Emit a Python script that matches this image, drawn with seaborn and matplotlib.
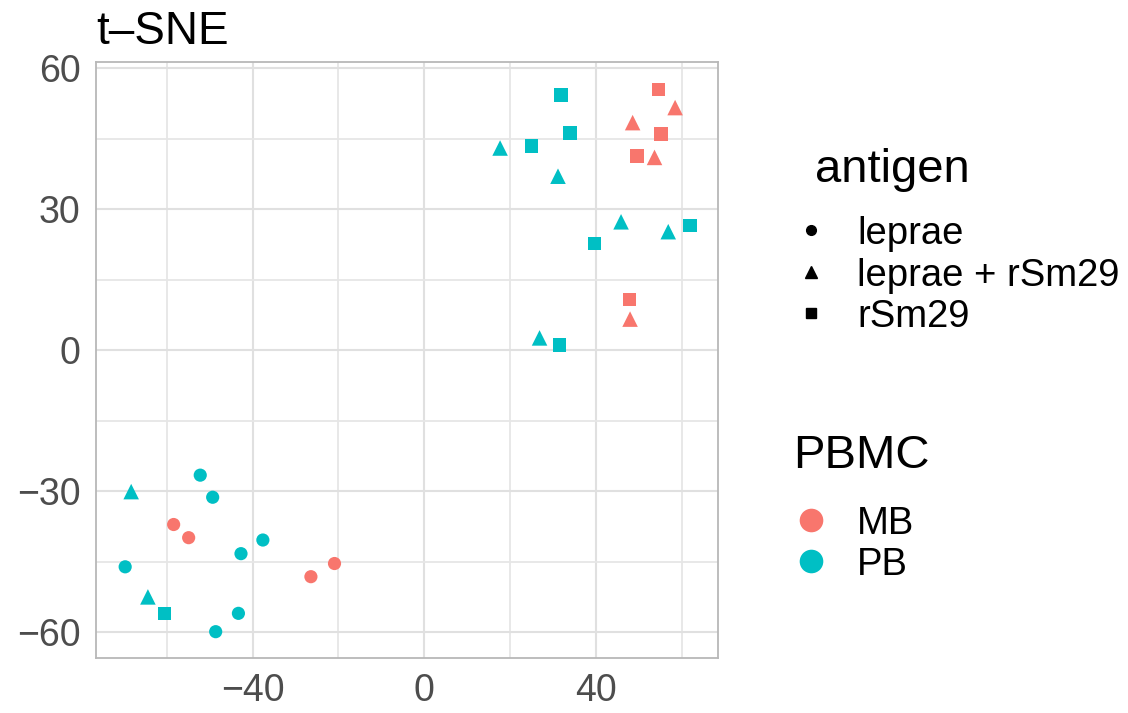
import numpy as np
import pandas as pd
import matplotlib
matplotlib.use("Agg")
import matplotlib.pyplot as plt
from matplotlib.lines import Line2D
import seaborn as sns

# t-SNE coordinates
tsne_x = [31.9, 34.0, 25.1, 17.7, 31.2, 54.7, 58.5, 48.6, 55.2, 49.6, 53.7,
          45.9, 56.9, 62.0, 39.7, 47.9, 48.0, 26.9, 31.5,
          -52.2, -68.3, -49.3, -58.4, -54.9, -37.6, -42.7, -69.7, -20.9, -26.4,
          -64.4, -60.6, -43.3, -48.6]
tsne_y = [54.3, 46.2, 43.4, 43.0, 37.0, 55.5, 51.6, 48.4, 46.0, 41.3, 41.0,
          27.3, 25.2, 26.5, 22.7, 10.8, 6.6, 2.6, 1.1,
          -26.6, -30.1, -31.3, -37.1, -39.9, -40.4, -43.3, -46.1, -45.4, -48.2,
          -52.5, -56.0, -56.0, -59.9]
pbmc = ["PB", "PB", "PB", "PB", "PB", "MB", "MB", "MB", "MB", "MB", "MB",
        "PB", "PB", "PB", "PB", "MB", "MB", "PB", "PB",
        "PB", "PB", "PB", "MB", "MB", "PB", "PB", "PB", "MB", "MB",
        "PB", "PB", "PB", "PB"]
antigen = ["rSm29", "rSm29", "rSm29", "leprae + rSm29", "leprae + rSm29",
           "rSm29", "leprae + rSm29", "leprae + rSm29", "rSm29", "rSm29", "leprae + rSm29",
           "leprae + rSm29", "leprae + rSm29", "rSm29", "rSm29", "rSm29", "leprae + rSm29",
           "leprae + rSm29", "rSm29",
           "leprae", "leprae + rSm29", "leprae", "leprae", "leprae", "leprae", "leprae",
           "leprae", "leprae", "leprae", "leprae + rSm29", "rSm29", "leprae", "leprae"]

antigen_levels = ["leprae", "leprae + rSm29", "rSm29"]
pbmc_levels = ["MB", "PB"]
colors = {"MB": "#F8766D", "PB": "#00BFC4"}
shapes = {"leprae": "o", "leprae + rSm29": "^", "rSm29": "s"}
shape_size = {"leprae": 90, "leprae + rSm29": 125, "rSm29": 92}

df = pd.DataFrame({"x": tsne_x, "y": tsne_y, "PBMC": pbmc, "antigen": antigen})

sns.set_theme(style="white")
plt.rcParams["font.family"] = ["Liberation Sans", "DejaVu Sans"]

W, H = 1128, 713
fig = plt.figure(figsize=(W / 100, H / 100), dpi=100)
ax = fig.add_axes([96 / W, 1 - 658 / H, (718 - 96) / W, (658 - 62) / H])

for a in antigen_levels:
    sub = df[df["antigen"] == a]
    sns.scatterplot(data=sub, x="x", y="y", hue="PBMC", palette=colors,
                    hue_order=pbmc_levels, marker=shapes[a], s=shape_size[a],
                    linewidth=0, ax=ax, legend=False, zorder=3)

ax.set_xlim(-76.5, 68.5)
ax.set_ylim(-65.5, 61.3)
ax.set_xticks([-40, 0, 40])
ax.set_yticks([-60, -30, 0, 30, 60])
ax.set_xticks([-60, -20, 20, 60], minor=True)
ax.set_yticks([-45, -15, 15, 45], minor=True)
ax.grid(True, which="major", color="#E0E0E0", linewidth=1.5)
ax.grid(True, which="minor", color="#E6E6E6", linewidth=1.3)
ax.set_axisbelow(True)
for sp in ax.spines.values():
    sp.set_color("#B8B8B8")
    sp.set_linewidth(1.3)
ax.tick_params(axis="both", which="major", length=7, width=1.3, color="#B8B8B8",
               labelsize=27, labelcolor="#4D4D4D", pad=4)
ax.tick_params(axis="both", which="minor", length=0)
ax.set_xlabel("")
ax.set_ylabel("")
ax.set_title("t–SNE", loc="left", fontsize=33, pad=13, color="black")


def fx(px):
    return px / W


def fy(py):
    return 1 - py / H


# antigen legend
fig.text(fx(815), fy(182), "antigen", fontsize=34, ha="left", va="baseline", color="black")
for a, py in zip(antigen_levels, [230, 272, 313]):
    fig.add_artist(Line2D([fx(811)], [fy(py)], marker=shapes[a], color="black",
                          linestyle="", markersize=7 if a != "leprae + rSm29" else 8,
                          transform=fig.transFigure))
    fig.text(fx(857), fy(py), a, fontsize=27.5, ha="left", va="center_baseline", color="black")

# PBMC legend
fig.text(fx(793), fy(468), "PBMC", fontsize=34, ha="left", va="baseline", color="black")
for p, py in zip(pbmc_levels, [520, 561]):
    fig.add_artist(Line2D([fx(811)], [fy(py)], marker="o", color=colors[p],
                          linestyle="", markersize=17, markeredgewidth=0,
                          transform=fig.transFigure))
    fig.text(fx(857), fy(py), p, fontsize=27.5, ha="left", va="center_baseline", color="black")

fig.savefig("out.png", dpi=100, facecolor="white")
